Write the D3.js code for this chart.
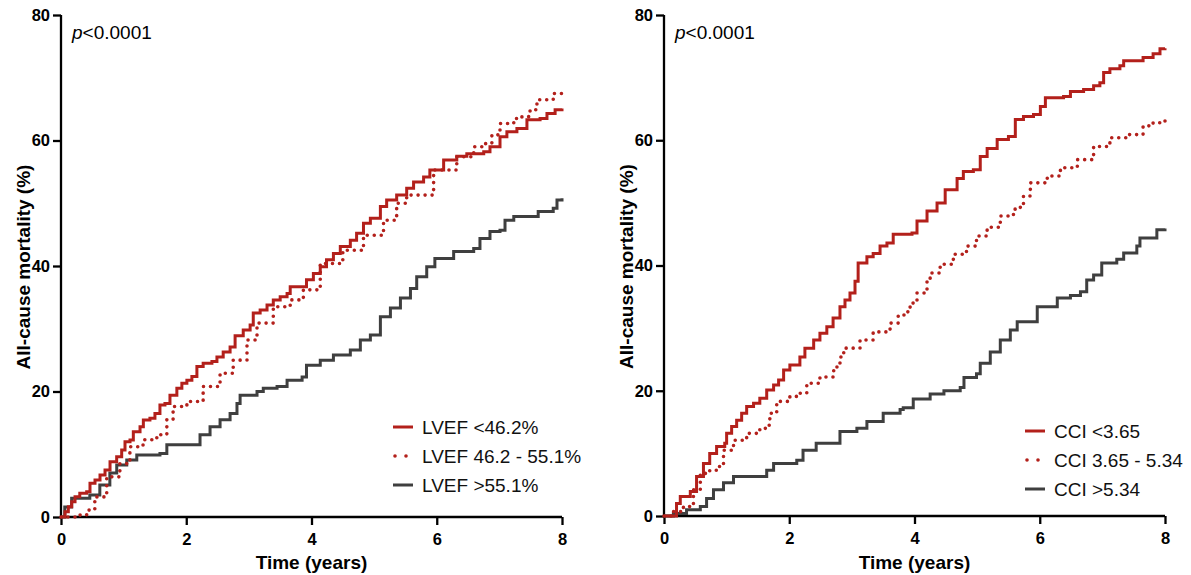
<!DOCTYPE html>
<html>
<head>
<meta charset="utf-8">
<script src="https://cdn.jsdelivr.net/npm/d3@7"></script>
<style>
  html, body { margin: 0; padding: 0; background: #fff; }
  svg { display: block; font-family: "Liberation Sans", Arial, Helvetica, sans-serif; }
</style>
</head>
<body>
<svg id="chart" width="1191" height="575"></svg>
<script>
// Cumulative all-cause mortality (%) by time (years), [time, percent]
const lvefLow = [[0,0],[0.064,0.85],[0.117,1.64],[0.171,2.44],[0.224,3.24],[0.30,3.77],[0.41,4.04],[0.463,5.37],[0.543,5.9],[0.623,6.69],[0.703,7.49],[0.783,8.81],[0.889,9.61],[0.969,10.68],[1.022,12.0],[1.102,12.27],[1.155,13.6],[1.262,14.39],[1.315,15.46],[1.42,15.73],[1.50,16.5],[1.58,17.85],[1.66,18.1],[1.74,19.4],[1.85,20.5],[1.93,21.3],[2.01,21.8],[2.09,22.4],[2.17,24.0],[2.27,24.5],[2.41,24.8],[2.49,25.5],[2.59,26.3],[2.70,27.1],[2.78,28.9],[2.91,29.8],[3.02,30.6],[3.07,32.5],[3.18,33.0],[3.29,33.8],[3.39,34.6],[3.50,35.1],[3.61,35.6],[3.66,36.7],[3.92,37.8],[4.03,38.8],[4.14,39.9],[4.24,41.0],[4.35,42.0],[4.46,43.1],[4.62,44.1],[4.72,45.2],[4.83,46.8],[4.94,47.6],[5.10,49.5],[5.20,50.5],[5.36,51.3],[5.52,52.4],[5.63,53.4],[5.79,54.2],[5.89,55.3],[6.11,56.9],[6.32,57.5],[6.48,57.9],[6.75,58.2],[6.85,59.0],[7.01,60.6],[7.12,61.4],[7.28,61.9],[7.44,63.3],[7.65,63.5],[7.76,64.3],[7.89,64.9],[8.0,65.1]];
const lvefMid = [[0,0],[0.25,0.3],[0.41,1.1],[0.54,3.2],[0.73,6.4],[0.94,8.5],[1.1,11.2],[1.31,12.3],[1.53,13.1],[1.69,15.5],[1.79,17.6],[2.01,18.4],[2.27,20.8],[2.54,22.9],[2.75,25.0],[2.97,28.2],[3.13,30.9],[3.39,33.5],[3.66,34.6],[3.87,36.2],[4.14,40.4],[4.5,42.5],[4.83,44.9],[5.15,47.3],[5.36,50.0],[5.52,51.3],[5.95,55.3],[6.32,57.4],[6.59,59.0],[6.72,59.5],[6.88,60.9],[7.01,62.7],[7.23,63.5],[7.36,63.8],[7.49,64.9],[7.6,66.5],[7.86,67.5],[8.0,68.3]];
const lvefHigh = [[0,0],[0.06,1.6],[0.17,3.0],[0.46,3.5],[0.62,5.1],[0.78,7.0],[0.89,8.3],[1.05,9.1],[1.21,9.9],[1.58,10.1],[1.69,11.5],[2.17,11.5],[2.22,13.1],[2.38,14.4],[2.54,15.5],[2.7,16.5],[2.81,18.1],[2.86,19.4],[3.13,20.0],[3.23,20.5],[3.45,20.8],[3.61,21.8],[3.85,22.3],[3.92,24.2],[4.14,25.0],[4.35,25.8],[4.62,26.6],[4.78,28.2],[4.94,29.0],[5.1,31.9],[5.26,33.3],[5.42,34.9],[5.58,36.4],[5.68,38.3],[5.84,39.9],[5.97,41.2],[6.27,42.3],[6.59,42.8],[6.69,44.4],[6.85,45.5],[7.01,45.7],[7.09,47.3],[7.23,47.9],[7.62,48.7],[7.86,49.2],[7.92,50.5],[8.0,50.8]];

const cciLow = [[0,0],[0.2,2.0],[0.26,3.1],[0.42,3.9],[0.52,6.3],[0.63,8.4],[0.73,10.0],[0.84,11.1],[0.97,11.6],[1.0,13.2],[1.08,14.3],[1.16,15.3],[1.24,16.4],[1.32,17.5],[1.43,18.0],[1.53,18.8],[1.64,20.1],[1.75,20.9],[1.83,21.7],[1.91,23.3],[2.01,24.1],[2.17,25.4],[2.25,26.8],[2.39,28.1],[2.49,29.2],[2.6,30.2],[2.70,31.6],[2.81,33.4],[2.89,34.5],[2.97,35.6],[3.05,37.5],[3.1,40.4],[3.24,41.4],[3.34,41.9],[3.45,43.1],[3.56,43.6],[3.66,45.0],[3.96,45.2],[4.04,47.1],[4.2,48.7],[4.36,50.0],[4.49,52.1],[4.68,53.9],[4.78,55.0],[4.94,55.3],[5.05,57.4],[5.16,58.7],[5.32,60.1],[5.5,60.6],[5.61,63.3],[5.74,63.8],[5.9,64.1],[6.01,65.4],[6.09,66.8],[6.38,67.0],[6.49,67.8],[6.7,68.1],[6.86,68.7],[6.96,69.2],[7.02,70.8],[7.12,71.4],[7.28,71.9],[7.34,72.7],[7.65,73.2],[7.81,73.8],[7.92,74.6],[8.0,74.7]];
const cciMid = [[0,0],[0.15,0.7],[0.31,1.5],[0.47,4.2],[0.58,6.8],[0.73,7.3],[0.84,7.9],[0.95,10.5],[1.11,12.1],[1.32,13.2],[1.53,14.0],[1.64,14.5],[1.69,16.4],[1.8,18.3],[2.01,19.1],[2.17,19.6],[2.28,21.2],[2.49,22.2],[2.71,23.8],[2.81,25.4],[2.87,26.8],[3.13,28.1],[3.34,29.4],[3.61,30.8],[3.74,32.1],[3.88,32.6],[3.93,34.0],[4.04,35.6],[4.2,37.5],[4.25,38.8],[4.41,40.2],[4.62,41.8],[4.83,43.1],[4.99,44.7],[5.16,46.1],[5.37,47.9],[5.58,49.0],[5.69,49.5],[5.74,51.1],[5.85,53.2],[6.12,54.3],[6.33,55.6],[6.6,56.9],[6.78,56.9],[6.86,59.0],[7.12,60.4],[7.39,60.9],[7.65,62.3],[7.81,62.8],[8.0,63.8]];
const cciHigh = [[0,0],[0.15,0.4],[0.36,1.0],[0.58,1.5],[0.68,2.8],[0.79,4.2],[0.95,5.3],[1.11,6.3],[1.53,6.3],[1.64,7.3],[1.75,8.4],[2.01,8.4],[2.12,8.9],[2.22,10.5],[2.43,11.6],[2.71,11.6],[2.81,13.5],[3.08,14.0],[3.24,15.1],[3.4,15.1],[3.5,16.4],[3.77,17.0],[3.82,17.3],[3.98,18.7],[4.25,19.5],[4.47,20.0],[4.73,20.5],[4.79,22.1],[4.99,22.7],[5.05,24.4],[5.21,26.2],[5.37,28.1],[5.53,29.7],[5.64,31.0],[5.8,31.0],[5.96,33.4],[6.22,33.4],[6.28,34.8],[6.49,35.2],[6.65,35.8],[6.75,37.7],[6.86,38.5],[6.99,40.4],[7.23,41.0],[7.34,42.0],[7.55,43.1],[7.6,44.4],[7.71,44.4],[7.87,45.7],[8.0,45.9]];

const lvefLabels = ["LVEF <46.2%", "LVEF 46.2 - 55.1%", "LVEF >55.1%"];
const cciLabels = ["CCI <3.65", "CCI 3.65 - 5.34", "CCI >5.34"];
const xTicks = [0, 2, 4, 6, 8];
const yTicks = [0, 20, 40, 60, 80];
const pText = "<0.0001";
const xTitle = "Time (years)";
const yTitle = "All-cause mortality (%)";

const RED = "#b3201b";
const GREY = "#3f3f3f";
const styles = [
  { color: RED, dotted: false },
  { color: RED, dotted: true },
  { color: GREY, dotted: false }
];

const svg = d3.select("#chart");

function drawPanel(cfg) {
  const g = svg.append("g");
  const x = d3.scaleLinear().domain([0, 8]).range([cfg.x0, cfg.x1]);
  const y = d3.scaleLinear().domain([0, 80]).range([cfg.y0, cfg.y1]);

  // axes
  const xAxis = g.append("g")
    .attr("transform", `translate(0,${cfg.y0})`)
    .call(d3.axisBottom(x).tickValues(xTicks).tickSize(8).tickSizeOuter(0).tickPadding(8));
  const yAxis = g.append("g")
    .attr("transform", `translate(${cfg.x0},0)`)
    .call(d3.axisLeft(y).tickValues(yTicks).tickSize(8).tickSizeOuter(0).tickPadding(3));
  [xAxis, yAxis].forEach(a => {
    a.selectAll("path.domain, .tick line").attr("stroke", "#000").attr("stroke-width", 2.3);
    a.selectAll("text").attr("fill", "#000").attr("font-size", 16.5).attr("font-weight", "bold")
      .attr("font-family", "Liberation Sans, Arial, sans-serif");
  });
  xAxis.select("path.domain").attr("d", `M${cfg.x0 - 1.15},0H${cfg.x1}`);
  yAxis.select("path.domain").attr("d", `M0,${cfg.y0}V${cfg.y1}`);

  // axis titles
  g.append("text")
    .attr("x", (cfg.x0 + cfg.x1) / 2).attr("y", 569)
    .attr("text-anchor", "middle").attr("font-size", 19).attr("font-weight", "bold")
    .text(xTitle);
  g.append("text")
    .attr("transform", `translate(${cfg.x0 - 31},${(cfg.y0 + cfg.y1) / 2 + 1}) rotate(-90)`)
    .attr("text-anchor", "middle").attr("font-size", 19).attr("font-weight", "bold")
    .text(yTitle);

  // p-value annotation
  const p = g.append("text").attr("x", cfg.x0 + 11).attr("y", 39).attr("font-size", 19);
  p.append("tspan").attr("font-style", "italic").text("p");
  p.append("tspan").text(pText);

  // survival curves (drawn grey first, then dotted, then solid red)
  const line = d3.line().x(d => x(d[0])).y(d => y(d[1])).curve(d3.curveStepAfter);
  [2, 1, 0].forEach(i => {
    const s = styles[i];
    const path = g.append("path")
      .datum(cfg.series[i])
      .attr("d", line)
      .attr("fill", "none")
      .attr("stroke", s.color);
    if (s.dotted) {
      path.attr("stroke-width", 3.6).attr("stroke-dasharray", "0 7").attr("stroke-linecap", "round");
    } else {
      path.attr("stroke-width", 3).attr("stroke-linejoin", "miter").attr("stroke-linecap", "butt");
    }
  });

  // legend
  const lg = g.append("g");
  cfg.labels.forEach((lab, i) => {
    const s = styles[i];
    const ly = cfg.legY + i * 29;
    if (s.dotted) {
      [cfg.legX + 2, cfg.legX + 13].forEach(cx => {
        lg.append("circle").attr("cx", cx).attr("cy", ly).attr("r", 1.8).attr("fill", s.color);
      });
    } else {
      lg.append("line")
        .attr("x1", cfg.legX).attr("x2", cfg.legX + 20)
        .attr("y1", ly).attr("y2", ly)
        .attr("stroke", s.color).attr("stroke-width", 3);
    }
    lg.append("text")
      .attr("x", cfg.legX + 29).attr("y", ly + 7)
      .attr("font-size", 19).attr("fill", "#111")
      .text(lab);
  });
}

drawPanel({ x0: 61, x1: 562, y0: 517, y1: 15, series: [lvefLow, lvefMid, lvefHigh], labels: lvefLabels, legX: 393, legY: 427 });
drawPanel({ x0: 664, x1: 1165, y0: 516, y1: 15, series: [cciLow, cciMid, cciHigh], labels: cciLabels, legX: 1025, legY: 431 });
</script>
</body>
</html>
